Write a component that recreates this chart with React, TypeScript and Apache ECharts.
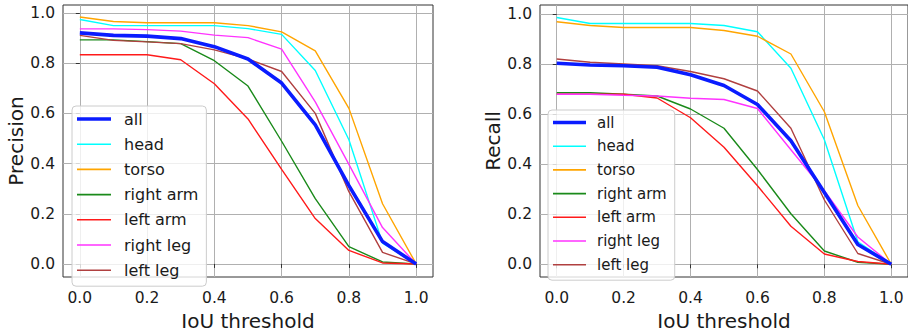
import React, { useEffect, useRef } from "react";
import * as echarts from "echarts";

const thresholds = [0, 0.1, 0.2, 0.3, 0.4, 0.5, 0.6, 0.7, 0.8, 0.9, 1.0];
const tickValues = [0, 0.2, 0.4, 0.6, 0.8, 1.0];
const seriesNames = ["all", "head", "torso", "right arm", "left arm", "right leg", "left leg"];
const seriesColors = ["#0a1cff", "#00ffff", "#ffa500", "#1a8a1a", "#ff1a1a", "#ff33ff", "#b04040"];

const precisionAll = [0.921, 0.911, 0.908, 0.898, 0.866, 0.817, 0.721, 0.554, 0.312, 0.089, 0.0];
const precisionHead = [0.974, 0.95, 0.95, 0.95, 0.95, 0.938, 0.915, 0.771, 0.495, 0.083, 0.0];
const precisionTorso = [0.984, 0.966, 0.961, 0.961, 0.961, 0.95, 0.925, 0.849, 0.62, 0.24, 0.0];
const precisionRightArm = [0.893, 0.893, 0.886, 0.878, 0.81, 0.709, 0.489, 0.26, 0.069, 0.008, 0.0];
const precisionLeftArm = [0.834, 0.834, 0.834, 0.814, 0.718, 0.578, 0.377, 0.181, 0.054, 0.004, 0.0];
const precisionRightLeg = [0.937, 0.937, 0.934, 0.928, 0.912, 0.902, 0.856, 0.646, 0.397, 0.145, 0.0];
const precisionLeftLeg = [0.911, 0.891, 0.885, 0.878, 0.853, 0.817, 0.767, 0.6, 0.288, 0.046, 0.0];

const recallAll = [0.804, 0.797, 0.794, 0.788, 0.758, 0.715, 0.639, 0.494, 0.287, 0.079, 0.0];
const recallHead = [0.987, 0.963, 0.963, 0.963, 0.963, 0.955, 0.93, 0.784, 0.498, 0.09, 0.0];
const recallTorso = [0.97, 0.955, 0.947, 0.947, 0.947, 0.935, 0.912, 0.841, 0.61, 0.235, 0.0];
const recallRightArm = [0.686, 0.686, 0.68, 0.673, 0.621, 0.544, 0.379, 0.202, 0.053, 0.008, 0.0];
const recallLeftArm = [0.68, 0.68, 0.68, 0.665, 0.586, 0.468, 0.314, 0.152, 0.041, 0.011, 0.0];
const recallRightLeg = [0.68, 0.68, 0.676, 0.673, 0.664, 0.659, 0.623, 0.458, 0.294, 0.109, 0.0];
const recallLeftLeg = [0.821, 0.808, 0.801, 0.794, 0.771, 0.742, 0.693, 0.544, 0.257, 0.043, 0.0];

const precisionSeries = [
  precisionAll, precisionHead, precisionTorso, precisionRightArm,
  precisionLeftArm, precisionRightLeg, precisionLeftLeg,
];
const recallSeries = [
  recallAll, recallHead, recallTorso, recallRightArm,
  recallLeftArm, recallRightLeg, recallLeftLeg,
];

const FONT = "DejaVu Sans";
const TEXT = "#1a1a1a";

function makeXAxis(gridIndex: number) {
  return {
    type: "value",
    gridIndex,
    min: -0.05,
    max: 1.05,
    name: "IoU threshold",
    nameLocation: "middle",
    nameGap: 34,
    nameTextStyle: { fontFamily: FONT, fontSize: 20, color: TEXT },
    axisLine: { show: false },
    axisTick: { show: true, inside: false, length: 4, customValues: tickValues, lineStyle: { color: "#333" } },
    axisLabel: {
      customValues: tickValues,
      margin: 13,
      fontFamily: FONT,
      fontSize: 15.5,
      color: TEXT,
      formatter: (v: number) => v.toFixed(1),
    },
    splitLine: { show: true, lineStyle: { color: "#b0b0b0", width: 1 } },
  };
}

function makeYAxis(gridIndex: number, name: string, min: number, max: number, gap: number) {
  return {
    type: "value",
    gridIndex,
    min,
    max,
    name,
    nameLocation: "middle",
    nameRotate: 90,
    nameGap: gap,
    nameTextStyle: { fontFamily: FONT, fontSize: 20, color: TEXT },
    axisLine: { show: false },
    axisTick: { show: true, inside: false, length: 4, customValues: tickValues, lineStyle: { color: "#333" } },
    axisLabel: {
      customValues: tickValues,
      margin: 8,
      fontFamily: FONT,
      fontSize: 15.5,
      color: TEXT,
      formatter: (v: number) => v.toFixed(1),
    },
    splitLine: { show: true, lineStyle: { color: "#b0b0b0", width: 1 } },
  };
}

function makeSeries(values: number[][], axisIndex: number) {
  return values.map((vals, i) => ({
    type: "line",
    name: seriesNames[i],
    xAxisIndex: axisIndex,
    yAxisIndex: axisIndex,
    data: thresholds.map((t, k) => [t, vals[k]]),
    symbol: "none",
    showSymbol: false,
    z: i === 0 ? 3 : 2,
    lineStyle: { color: seriesColors[i], width: i === 0 ? 3.6 : 1.4 },
    itemStyle: { color: seriesColors[i] },
  }));
}

function makeLegend(left: number, top: number, fontSize: number, itemWidth: number, textGap: number, rowGap: number, padRight: number) {
  return {
    orient: "vertical",
    left,
    top,
    data: seriesNames.map((n, i) => ({
      name: n,
      icon: i === 0 ? `path://M0,0H${itemWidth}V3.6H0Z` : `path://M0,0H${itemWidth}V1.6H0Z`,
    })),
    symbolKeepAspect: true,
    itemWidth,
    itemHeight: 14,
    itemGap: rowGap,
    selectedMode: false,
    padding: [5, padRight, 8, 5],
    backgroundColor: "rgba(255,255,255,0.8)",
    borderColor: "#cccccc",
    borderWidth: 1,
    borderRadius: 4,
    textStyle: {
      fontFamily: FONT,
      fontSize,
      color: TEXT,
      lineHeight: 14,
      padding: [0, 0, 0, textGap],
    },
  };
}

export default function App() {
  const ref = useRef<HTMLDivElement>(null);
  useEffect(() => {
    if (!ref.current) return;
    const chart = echarts.init(ref.current, undefined, { renderer: "svg" });
    chart.setOption({
      animation: false,
      backgroundColor: "#ffffff",
      grid: [
        { left: 63, top: 5, width: 370, height: 276, show: true, borderColor: "#333", borderWidth: 1, backgroundColor: "transparent" },
        { left: 540, top: 5, width: 370, height: 275, show: true, borderColor: "#333", borderWidth: 1, backgroundColor: "transparent" },
      ],
      xAxis: [makeXAxis(0), makeXAxis(1)],
      yAxis: [
        makeYAxis(0, "Precision", -0.052, 1.032, 36),
        makeYAxis(1, "Recall", -0.051, 1.037, 35),
      ],
      legend: [
        makeLegend(72, 106, 16, 34, 8, 9.2, 8),
        makeLegend(548, 110, 15, 33, 6, 8.7, 8),
      ],
      series: [...makeSeries(precisionSeries, 0), ...makeSeries(recallSeries, 1)],
    });
    return () => chart.dispose();
  }, []);
  return (
    <div
      ref={ref}
      style={{ position: "fixed", left: 0, top: 0, width: 908, height: 336 }}
    />
  );
}
